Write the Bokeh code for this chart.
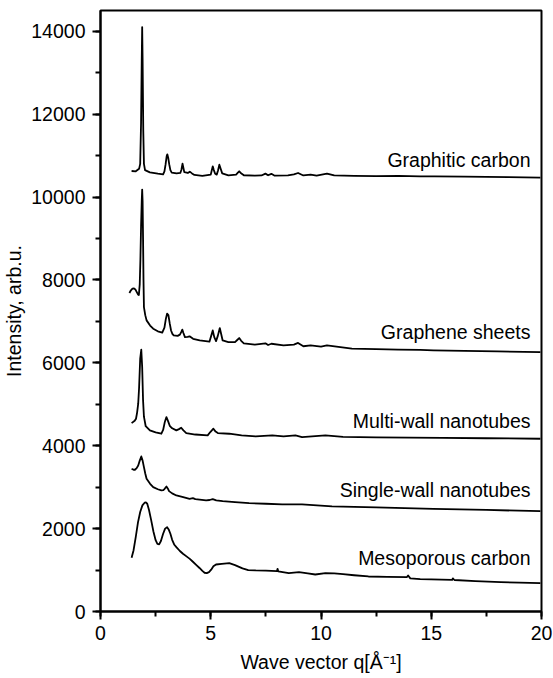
from bokeh.plotting import figure
from bokeh.models import Range1d, SingleIntervalTicker, ColumnDataSource
from bokeh.core.properties import value
from bokeh.embed import file_html
from bokeh.resources import INLINE

# ---- data ----
graphitic_x = [1.41, 1.60, 1.75, 1.80, 1.84, 1.87, 1.89, 1.91, 1.94, 1.97, 2.02, 2.24, 2.6, 2.84, 2.90, 2.95, 3.00, 3.03,
               3.07, 3.12, 3.17, 3.23, 3.45, 3.62, 3.67, 3.72, 3.76, 3.80, 3.96, 4.05, 4.15, 4.26, 4.62, 5.00, 5.05,
               5.09, 5.14, 5.20, 5.27, 5.33, 5.39, 5.45, 5.52, 5.8, 6.15, 6.22, 6.29, 6.36, 6.5, 7.0, 7.3, 7.48, 7.6,
               7.75, 7.9, 8.5, 8.77, 8.96, 9.2, 9.53, 9.8, 10.27, 10.6, 11.5, 12.5, 13.5, 14.5, 15.15, 16.5, 17.5,
               18.5, 19.95]
graphitic_y = [10628, 10620, 10680, 10800, 11800, 13300, 14100, 13300, 11600, 10800, 10650, 10596, 10565, 10548, 10620,
               10780, 10980, 11030, 10950, 10780, 10650, 10590, 10570, 10580, 10660, 10805, 10700, 10600, 10580, 10612,
               10570, 10532, 10508, 10540, 10650, 10740, 10650, 10560, 10540, 10640, 10780, 10680, 10570, 10524, 10540,
               10580, 10620, 10580, 10525, 10516, 10520, 10564, 10525, 10560, 10515, 10520, 10545, 10580, 10520, 10540,
               10515, 10564, 10520, 10510, 10505, 10510, 10500, 10500, 10490, 10485, 10478, 10468]

graphene_x = [1.31, 1.38, 1.45, 1.52, 1.58, 1.64, 1.70, 1.74, 1.78, 1.81, 1.84, 1.87, 1.89, 1.91, 1.93, 1.95, 1.97,
              2.03, 2.09, 2.25, 2.39, 2.6, 2.80, 2.90, 2.96, 3.02, 3.08, 3.14, 3.20, 3.26, 3.32, 3.50, 3.60, 3.66,
              3.71, 3.76, 3.83, 3.95, 4.04, 4.2, 4.5, 4.94, 5.02, 5.09, 5.16, 5.24, 5.32, 5.41, 5.47, 5.54, 5.8,
              6.1, 6.20, 6.29, 6.38, 6.5, 7.0, 7.48, 7.6, 7.75, 8.3, 8.77, 8.96, 9.2, 9.53, 10.0, 10.27, 11.4,
              12.5, 13.5, 14.5, 15.1, 16.5, 18.0, 19.95]
graphene_y = [7683, 7750, 7790, 7796, 7770, 7710, 7650, 7635, 7900, 8500, 9300, 9900, 10180, 9900, 9000, 8000, 7345,
              7150, 7024, 6900, 6823, 6760, 6730, 6850, 7050, 7185, 7150, 6950, 6780, 6700, 6662, 6650, 6680, 6740,
              6800, 6720, 6621, 6625, 6640, 6580, 6540, 6510, 6650, 6782, 6620, 6524, 6650, 6838, 6700, 6540, 6500,
              6500, 6550, 6597, 6530, 6470, 6440, 6470, 6430, 6460, 6420, 6440, 6480, 6400, 6420, 6390, 6420, 6340,
              6330, 6320, 6310, 6300, 6290, 6275, 6260]

multiwall_x = [1.41, 1.55, 1.61, 1.66, 1.71, 1.75, 1.80, 1.85, 1.89, 1.93, 1.97, 2.05, 2.24, 2.50, 2.76, 2.84, 2.92,
               2.99, 3.06, 3.14, 3.25, 3.44, 3.56, 3.66, 3.76, 3.89, 4.3, 4.86, 4.98, 5.12, 5.22, 5.32, 5.84, 6.4,
               7.04, 7.79, 8.3, 8.84, 9.14, 10.2, 11.0, 12.5, 14.0, 15.5, 17.5, 19.95]
multiwall_y = [4545, 4600, 4651, 4800, 5013, 5400, 6100, 6317, 5900, 5100, 4700, 4470, 4369, 4320, 4289, 4380, 4580,
               4691, 4600, 4480, 4420, 4369, 4400, 4433, 4370, 4305, 4270, 4248, 4330, 4410, 4340, 4305, 4289, 4250,
               4224, 4248, 4225, 4248, 4208, 4248, 4215, 4200, 4195, 4190, 4180, 4168]

singlewall_x = [1.41, 1.50, 1.56, 1.64, 1.71, 1.78, 1.85, 1.91, 1.97, 2.03, 2.09, 2.25, 2.39, 2.60, 2.76, 2.85, 2.91,
                2.99, 3.05, 3.11, 3.25, 3.44, 3.75, 4.04, 4.19, 4.30, 4.79, 4.95, 5.09, 5.25, 5.54, 6.1, 6.74, 7.5,
                8.24, 9.14, 10.5, 12.5, 15.1, 17.5, 19.95]
singlewall_y = [3444, 3420, 3420, 3460, 3524, 3640, 3741, 3640, 3483, 3330, 3203, 3080, 3001, 2950, 2921, 2930, 2961,
                3017, 2970, 2904, 2850, 2800, 2760, 2720, 2735, 2710, 2679, 2690, 2711, 2680, 2663, 2640, 2614, 2600,
                2583, 2583, 2534, 2510, 2478, 2450, 2421]

meso_x = [1.41, 1.50, 1.60, 1.70, 1.80, 1.90, 2.00, 2.06, 2.12, 2.20, 2.30, 2.40, 2.50, 2.58, 2.66, 2.74, 2.84, 2.93,
          3.02, 3.10, 3.17, 3.25, 3.35, 3.44, 3.60, 3.74, 3.90, 4.05, 4.19, 4.35, 4.49, 4.62, 4.72, 4.82, 4.92,
          5.02, 5.12, 5.24, 5.5, 5.84, 6.1, 6.44, 6.7, 7.04, 7.5, 8.00, 8.03, 8.06, 8.54, 9.0, 9.4, 9.74, 10.2,
          10.6, 11.0, 11.5, 12.15, 13.0, 13.9, 13.95, 14.05, 14.5, 15.0, 15.95, 15.98, 16.05, 17.0, 18.15, 19.0,
          19.95]
meso_y = [1296, 1480, 1800, 2150, 2400, 2560, 2625, 2631, 2600, 2450, 2200, 1930, 1720, 1630, 1620, 1700, 1875, 2000,
          2035, 1970, 1875, 1730, 1610, 1553, 1460, 1393, 1330, 1270, 1200, 1120, 1050, 980, 935, 926, 950, 1010,
          1090, 1134, 1150, 1166, 1120, 1040, 1000, 990, 985, 974, 1030, 970, 926, 950, 920, 893, 926, 920, 900,
          875, 845, 835, 830, 869, 800, 780, 775, 765, 800, 760, 735, 708, 695, 683]

series_names = ["Graphitic carbon", "Graphene sheets", "Multi-wall nanotubes", "Single-wall nanotubes", "Mesoporous carbon"]
label_y = [10903, 6742, 4593, 2921, 1296]
label_x = 19.5

FONT = "Liberation Sans"

p = figure(width=553, height=678, output_backend="svg", toolbar_location=None,
           x_range=Range1d(0, 20), y_range=Range1d(0, 14500),
           min_border_left=97, min_border_right=12, min_border_top=10, min_border_bottom=67)
p.background_fill_color = "white"
p.border_fill_color = "white"
p.outline_line_color = "black"
p.outline_line_width = 2
p.xgrid.visible = False
p.ygrid.visible = False

for xs, ys in [(graphitic_x, graphitic_y), (graphene_x, graphene_y), (multiwall_x, multiwall_y),
               (singlewall_x, singlewall_y), (meso_x, meso_y)]:
    p.line(xs, ys, line_color="black", line_width=1.8, line_join="round")

src = ColumnDataSource(dict(x=[label_x] * len(series_names), y=label_y, t=series_names))
p.text(x="x", y="y", text="t", source=src, text_align="right", text_baseline="middle",
       text_font=value(FONT), text_font_size="19.5px", text_color="black")

p.xaxis.ticker = SingleIntervalTicker(interval=5, num_minor_ticks=2)
p.yaxis.ticker = SingleIntervalTicker(interval=2000, num_minor_ticks=2)

for ax in (p.xaxis[0], p.yaxis[0]):
    ax.axis_line_width = 2
    ax.axis_line_color = "black"
    ax.major_tick_line_width = 2
    ax.minor_tick_line_width = 2
    ax.major_tick_out = 8
    ax.major_tick_in = 0
    ax.minor_tick_out = 5
    ax.minor_tick_in = 0
    ax.major_label_text_font = FONT
    ax.major_label_text_font_size = "19.5px"
    ax.major_label_text_color = "black"
    ax.axis_label_text_font = FONT
    ax.axis_label_text_font_size = "19.5px"
    ax.axis_label_text_font_style = "normal"
    ax.axis_label_text_color = "black"

p.xaxis.axis_label = "Wave vector q[Å⁻¹]"
p.yaxis.axis_label = "Intensity, arb.u."
p.xaxis.major_label_standoff = 6
p.yaxis.major_label_standoff = 7
p.xaxis.axis_label_standoff = 8
p.yaxis.axis_label_standoff = 3

open("out.html", "w").write(file_html(p, INLINE))
